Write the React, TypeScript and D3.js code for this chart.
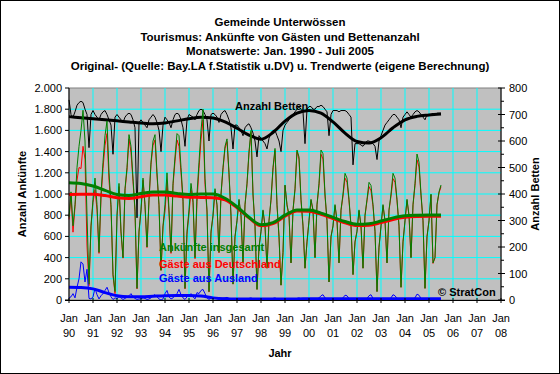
import React from "react";
import * as d3 from "d3";

const W = 560;
const H = 374;
const PL = 69, PR = 501, PT = 88, PB = 300;

const titleLines = [
  "Gemeinde Unterwössen",
  "Tourismus: Ankünfte von Gästen und Bettenanzahl",
  "Monatswerte: Jan. 1990 - Juli 2005",
  "Original- (Quelle: Bay.LA f.Statistik u.DV) u. Trendwerte (eigene Berechnung)",
];

const yearLabels = ["90","91","92","93","94","95","96","97","98","99","00","01","02","03","04","05","06","07","08"];
const leftTicks = [0, 200, 400, 600, 800, 1000, 1200, 1400, 1600, 1800, 2000];
const rightTicks = [0, 100, 200, 300, 400, 500, 600, 700, 800];

// Ankünfte insgesamt (monthly, Jan 1990 - Jul 2005)
const total = [
  [780,1020,700,900,1250,1450,1600,1790,1500,800,150,700],
  [950,1150,900,450,1000,1300,1550,1690,1200,900,240,80],
  [800,1100,650,400,1050,1250,1560,1450,1150,850,110,650],
  [850,1150,900,500,950,1300,1500,1560,1200,900,280,700],
  [900,1200,850,450,1100,1350,1570,1550,1250,950,110,650],
  [850,1100,950,400,1000,1300,1600,1800,1150,850,80,650],
  [800,1050,900,450,1000,1250,1450,1520,1200,800,150,600],
  [750,950,800,350,900,1100,1400,1600,1000,700,100,500],
  [650,850,700,300,750,950,1250,1430,900,600,140,450],
  [1085,900,800,350,850,1050,1415,1350,950,700,300,550],
  [750,950,850,400,900,1100,1415,1380,1000,750,170,600],
  [700,900,750,350,850,1000,1195,1150,950,700,240,550],
  [650,850,700,300,800,950,1110,1080,900,650,80,500],
  [700,900,750,350,850,1000,1195,1150,950,700,120,550],
  [750,950,800,400,900,1100,1377,1300,1000,750,110,600],
  [750,1000,350,400,900,1020,1085],
];

// Gäste aus Deutschland
const german = [
  [760,990,640,880,1130,1250,1240,1450,1330,510,135,690],
  [920,1040,850,440,960,1240,1460,1570,1130,870,235,60],
  [785,1070,630,395,1035,1225,1520,1390,1120,835,105,640],
  [840,1130,885,495,940,1280,1460,1510,1170,890,280,690],
  [840,1110,820,440,1080,1310,1510,1450,1200,930,105,620],
  [810,1040,920,390,930,1240,1510,1700,1090,830,75,630],
  [790,1030,890,445,990,1235,1430,1495,1185,790,150,595],
  [745,940,795,350,895,1090,1385,1580,990,695,100,495],
  [645,840,695,300,745,940,1235,1410,890,595,140,445],
  [1080,890,795,350,845,1040,1400,1330,940,695,300,545],
  [745,940,845,400,895,1080,1375,1330,980,745,170,595],
  [695,890,745,350,845,980,1150,1110,935,695,240,545],
  [645,840,695,300,795,935,1070,1030,885,645,80,495],
  [695,890,745,350,845,980,1145,1110,935,695,120,545],
  [745,940,795,400,895,1080,1322,1255,985,745,110,595],
  [745,990,345,400,895,1010,1070],
];

// Gäste aus Ausland
const foreign = [
  [20,30,60,20,120,200,360,340,170,290,15,10],
  [30,110,50,10,40,60,90,120,70,30,5,20],
  [15,30,20,5,15,25,40,60,30,15,5,10],
  [10,20,15,5,10,20,40,50,30,10,0,10],
  [60,90,30,10,20,40,60,100,50,20,5,30],
  [40,60,30,10,70,60,90,100,60,20,5,20],
  [10,20,10,5,10,15,20,25,15,10,0,5],
  [5,10,5,0,5,10,15,20,10,5,0,5],
  [5,10,5,0,5,10,15,20,10,5,0,5],
  [5,10,5,0,5,10,15,20,10,5,0,5],
  [5,10,5,0,5,20,40,50,20,5,0,5],
  [5,10,5,0,5,20,45,40,15,5,0,5],
  [5,10,5,0,5,15,40,50,15,5,0,5],
  [5,10,5,0,5,20,50,40,15,5,0,5],
  [5,10,5,0,5,20,55,45,15,5,0,5],
  [5,10,5,0,5,10,15],
];

// Anzahl Betten (right axis)
const beds = [
  [755,700,690,710,735,745,750,745,720,700,575,700],
  [715,700,690,680,700,710,715,700,680,660,550,690],
  [700,690,680,670,690,700,705,700,680,650,310,670],
  [680,670,660,650,680,690,700,690,670,640,560,660],
  [690,680,670,650,680,700,705,700,680,650,580,680],
  [700,695,690,680,700,715,720,715,700,680,600,700],
  [705,700,690,670,700,710,715,700,680,650,570,660],
  [660,650,640,620,650,660,665,650,630,600,540,620],
  [610,600,590,570,610,630,640,640,620,600,560,640],
  [660,670,680,690,700,710,720,730,720,710,590,720],
  [730,730,720,720,730,730,735,730,720,710,620,700],
  [715,715,715,710,715,715,715,710,700,690,510,590],
  [590,590,585,580,590,600,600,595,590,580,530,600],
  [620,640,660,670,680,690,700,700,690,680,650,690],
  [700,710,700,690,700,710,715,710,700,690,680,700],
  [700,700,705,700,705,705,705],
];

// Trend values (half-year points)
const trendTimes = [1990,1990.5,1991,1991.5,1992,1992.5,1993,1993.5,1994,1994.5,1995,1995.5,1996,1996.5,1997,1997.5,1998,1998.5,1999,1999.5,2000,2000.5,2001,2001.5,2002,2002.5,2003,2003.5,2004,2004.5,2005,2005.5];
const trendTotal = [1107,1100,1075,1035,995,985,1005,1020,1020,1005,995,1000,1000,960,880,780,710,730,800,850,848,820,780,740,715,720,745,775,795,800,802,802];
const trendGerman = [995,997,998,985,965,958,975,990,990,980,970,968,965,945,870,775,700,720,790,840,838,808,768,728,702,705,730,760,780,788,790,790];
const trendForeign = [120,118,105,70,40,30,30,35,40,42,42,38,20,12,10,10,10,10,10,10,12,12,12,12,12,12,12,12,12,12,12,12];
const trendBeds = [692,688,684,680,676,672,668,665,668,676,684,690,687,672,648,622,607,632,675,705,715,705,672,630,598,592,612,650,680,693,698,702];

const FONT = "'Liberation Sans', Arial, Helvetica, sans-serif";

export default function App() {
  const x = d3.scaleLinear().domain([1990, 2008]).range([PL, PR]);
  const yL = d3.scaleLinear().domain([0, 2000]).range([PB, PT]);
  const yR = d3.scaleLinear().domain([0, 800]).range([PB, PT]);

  const flat = (a: number[][]) => a.flat();
  const monthly = (vals: number[], y: d3.ScaleLinear<number, number>) =>
    d3.line<number>().x((_, i) => x(1990 + i / 12)).y((d) => y(d))(vals) || "";
  const trend = (vals: number[], y: d3.ScaleLinear<number, number>) =>
    d3
      .line<number>()
      .x((_, i) => x(trendTimes[i]))
      .y((d) => y(d))
      .curve(d3.curveMonotoneX)(vals) || "";

  const years = d3.range(0, yearLabels.length).map((i) => 1990 + i);
  const rightMinor = d3.range(50, 800, 100);

  return (
    <svg width={W} height={H} style={{ position: "absolute", left: 0, top: 0 }} fontFamily={FONT}>
      <rect x={0.5} y={0.5} width={W - 1} height={H - 1} fill="#fff" stroke="#000" />
      {titleLines.map((t, i) => (
        <text key={i} x={280} y={26 + i * 14.7} textAnchor="middle" fontSize={11.5} fontWeight="bold">
          {t}
        </text>
      ))}
      <rect x={PL} y={PT} width={PR - PL} height={PB - PT} fill="#c0c0c0" stroke="#808080" />
      {years.slice(1, -1).map((yr) => (
        <line key={"vg" + yr} x1={x(yr)} x2={x(yr)} y1={PT} y2={PB} stroke="#00ffff" strokeWidth={1} />
      ))}
      {leftTicks.slice(1, -1).map((v) => (
        <line key={"hg" + v} x1={PL} x2={PR} y1={yL(v)} y2={yL(v)} stroke="#00ffff" strokeWidth={1} />
      ))}

      <path d={monthly(flat(beds), yR)} fill="none" stroke="#000" strokeWidth={1} />
      <path d={trend(trendBeds, yR)} fill="none" stroke="#000" strokeWidth={3} />
      <path d={monthly(flat(german), yL)} fill="none" stroke="#ff0000" strokeWidth={1} />
      <path d={monthly(flat(total), yL)} fill="none" stroke="#008000" strokeWidth={1} />
      <path d={monthly(flat(foreign), yL)} fill="none" stroke="#0000ff" strokeWidth={1} />
      <path d={trend(trendGerman, yL)} fill="none" stroke="#ff0000" strokeWidth={3} />
      <path d={trend(trendTotal, yL)} fill="none" stroke="#008000" strokeWidth={3} />
      <path d={trend(trendForeign, yL)} fill="none" stroke="#0000ff" strokeWidth={3} />

      {/* axes */}
      <line x1={PL} x2={PL} y1={PT} y2={PB} stroke="#000" />
      <line x1={PR} x2={PR} y1={PT} y2={PB} stroke="#000" />
      <line x1={PL - 4} x2={PR + 4} y1={PB + 0.5} y2={PB + 0.5} stroke="#000" />
      {leftTicks.map((v) => (
        <g key={"lt" + v}>
          <line x1={PL - 4} x2={PL} y1={yL(v)} y2={yL(v)} stroke="#000" />
          <text x={62} y={yL(v) + 4} textAnchor="end" fontSize={11}>
            {d3.format(",")(v).replace(",", ".")}
          </text>
        </g>
      ))}
      {rightTicks.map((v) => (
        <g key={"rt" + v}>
          <line x1={PR - 3} x2={PR + 4} y1={yR(v)} y2={yR(v)} stroke="#000" />
          <text x={509} y={yR(v) + 4} textAnchor="start" fontSize={11}>
            {v}
          </text>
        </g>
      ))}
      {rightMinor.map((v) => (
        <line key={"rm" + v} x1={PR} x2={PR + 3} y1={yR(v)} y2={yR(v)} stroke="#000" />
      ))}
      {years.map((yr, i) => (
        <g key={"xt" + yr}>
          <line x1={x(yr)} x2={x(yr)} y1={PB - 2} y2={PB + 3} stroke="#000" />
          <text x={x(yr)} y={322} textAnchor="middle" fontSize={11}>Jan</text>
          <text x={x(yr)} y={337} textAnchor="middle" fontSize={11}>{yearLabels[i]}</text>
        </g>
      ))}
      <text x={280} y={357} textAnchor="middle" fontSize={11} fontWeight="bold">Jahr</text>
      <text transform="translate(26,194) rotate(-90)" textAnchor="middle" fontSize={11} fontWeight="bold">Anzahl Ankünfte</text>
      <text transform="translate(539,194) rotate(-90)" textAnchor="middle" fontSize={11} fontWeight="bold">Anzahl Betten</text>

      {/* in-plot labels */}
      <text x={235} y={110} fontSize={11} fontWeight="bold" fill="#000">Anzahl Betten</text>
      <text x={159} y={251} fontSize={11} fontWeight="bold" fill="#008000">Ankünfte insgesamt</text>
      <text x={159} y={268} fontSize={11} fontWeight="bold" fill="#ff0000">Gäste aus Deutschland</text>
      <text x={159} y={282} fontSize={11} fontWeight="bold" fill="#0000ff">Gäste aus Ausland</text>
      <text x={438} y={296} fontSize={11} fontWeight="bold" fill="#000">© StratCon</text>
    </svg>
  );
}
